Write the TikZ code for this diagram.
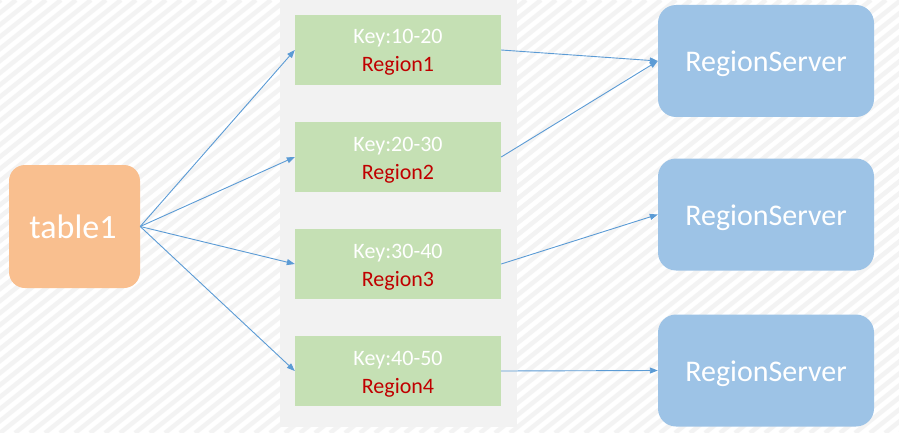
\documentclass[tikz,border=0pt]{standalone}
\usepackage{fontspec}
\setmainfont{Carlito}
\usetikzlibrary{arrows.meta}
\definecolor{bgstripe}{HTML}{F3F3F3}
\definecolor{colgray}{HTML}{F2F2F2}
\definecolor{orangebox}{HTML}{F9BF8F}
\definecolor{greenbox}{HTML}{C5E0B4}
\definecolor{bluebox}{HTML}{9DC3E6}
\definecolor{arrowblue}{HTML}{5B9BD5}
\definecolor{darkred}{HTML}{C00000}
\tikzset{
  region/.style={fill=greenbox, draw=none, minimum width=206pt, minimum height=70pt, inner sep=0pt},
  server/.style={fill=bluebox, draw=none, rounded corners=18pt, minimum width=216pt, minimum height=112pt, inner sep=0pt},
  tablebox/.style={fill=orangebox, draw=none, rounded corners=16pt, minimum width=131pt, minimum height=123pt, inner sep=0pt},
  keytxt/.style={anchor=base, text=white, font=\fontsize{22}{26}\selectfont, inner sep=0pt},
  regtxt/.style={anchor=base, text=darkred, font=\fontsize{22}{26}\selectfont, inner sep=0pt},
  bigtxt/.style={anchor=base, text=white, font=\fontsize{30}{34}\selectfont, inner sep=0pt},
  tabletxt/.style={anchor=base, text=white, font=\fontsize{34}{38}\selectfont, inner sep=0pt},
  conn/.style={draw=arrowblue, line width=0.9pt, -{Triangle[length=8pt,width=6pt]}},
}
\begin{document}
\begin{tikzpicture}[x=1pt,y=-1pt]
\useasboundingbox (0,0) rectangle (899,433);
\fill[white] (0,0) rectangle (899,433);
\begin{scope}
\clip (0,0) rectangle (899,433);
\foreach \i in {-40,...,62} {
  \draw[bgstripe, line width=4.5pt] (\i*15, 433) -- ++(541,-433);
}
\end{scope}
\node[fill=colgray, draw=none, minimum width=237pt, minimum height=427pt, inner sep=0pt, anchor=north west] (col) at (280,0) {};
% table
\node[tablebox] (t1) at (74.5,226.5) {};
\node[tabletxt] (t1txt) at (73,238) {table1};
% regions
\foreach \n/\y/\k in {1/50/10-20, 2/157/20-30, 3/264/30-40, 4/371/40-50} {
  \node[region] (r\n) at (398,\y) {};
  \node[keytxt] (k\n) at (398,\y-6) {Key:\k};
  \node[regtxt] (g\n) at (398,\y+22) {Region\n};
}
% servers
\foreach \n/\y in {1/61, 2/214.5, 3/370.5} {
  \node[server] (s\n) at (766,\y) {};
  \node[bigtxt] (st\n) at (766,\y+11) {RegionServer};
}
% connectors
\foreach \n in {1,2,3,4} {
  \draw[conn] (t1.east) -- (r\n.west);
}
\draw[conn] (r1.east) -- (s1.west);
\draw[conn] (r2.east) -- (s1.west);
\draw[conn] (r3.east) -- (s2.west);
\draw[conn] (r4.east) -- (s3.west);
\end{tikzpicture}
\end{document}
